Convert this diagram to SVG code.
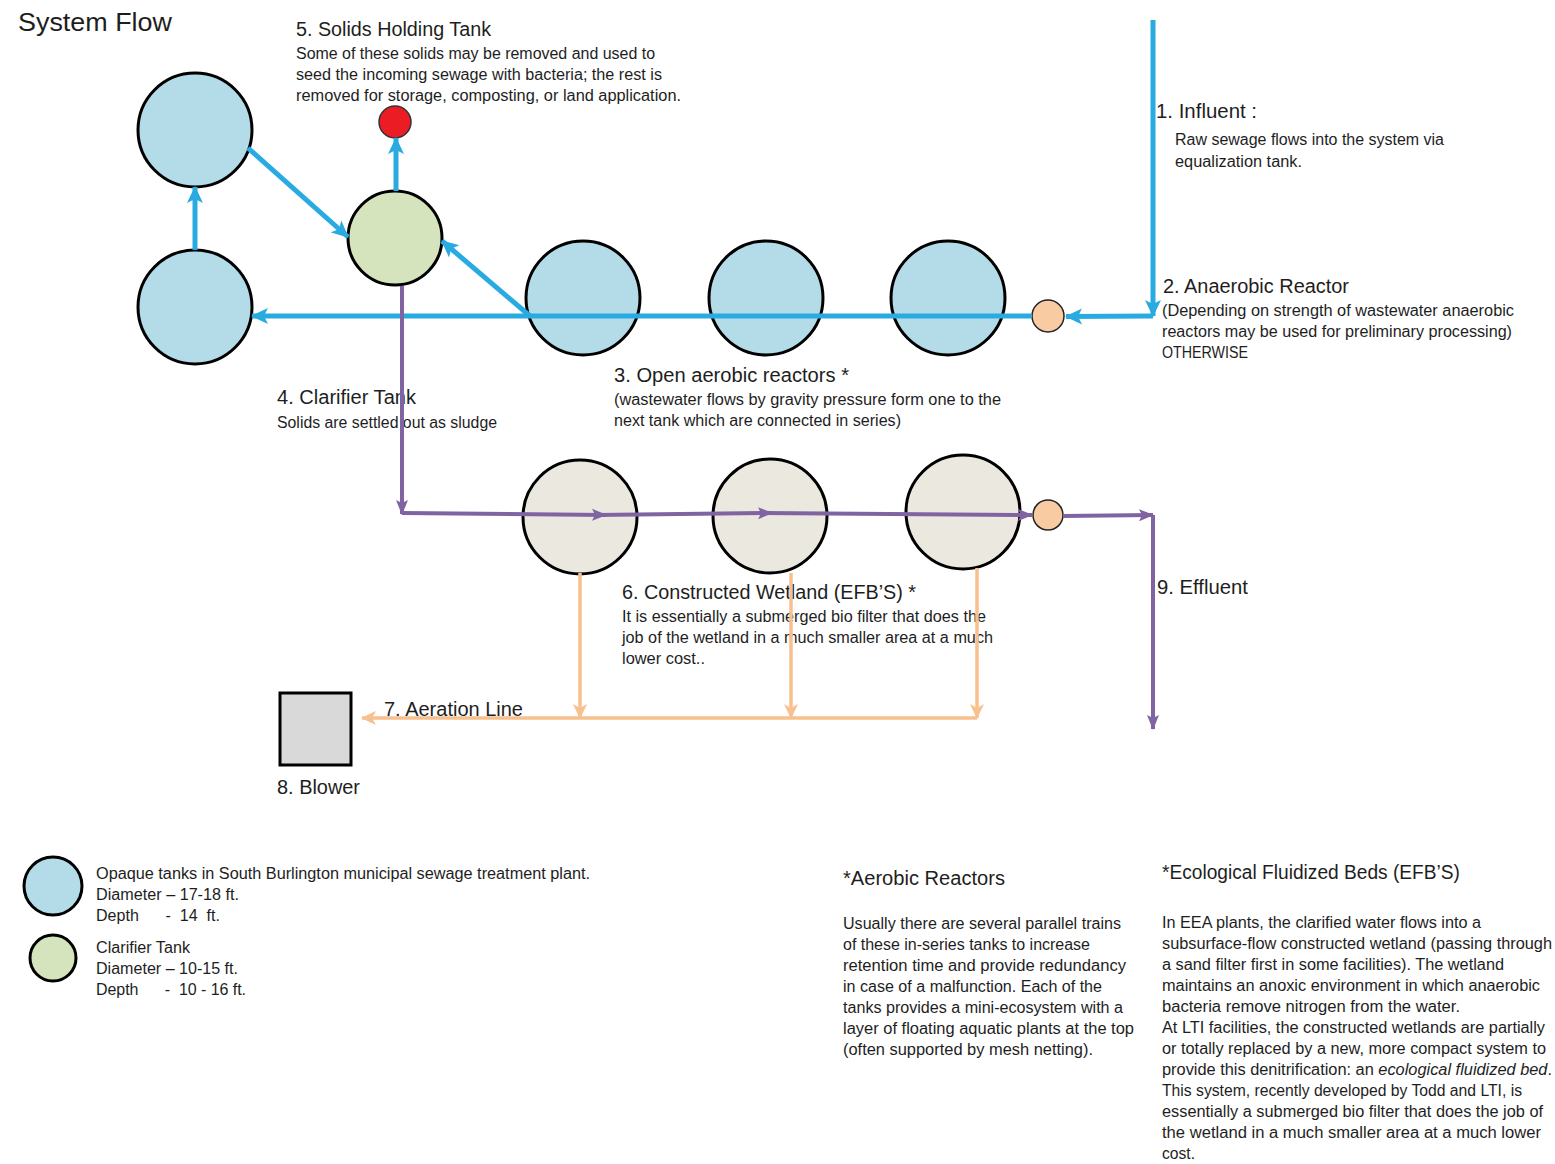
<svg xmlns="http://www.w3.org/2000/svg" width="1555" height="1164" viewBox="0 0 1555 1164">
<style>
text{font-family:"Liberation Sans",Arial,sans-serif;fill:#1e1e1e}
.t{font-size:19.5px}
.b{font-size:16px}
.h{font-size:20px}
.blue{fill:#b4dbe8;stroke:#000;stroke-width:3}
.green{fill:#d6e4bd;stroke:#000;stroke-width:3}
.cream{fill:#ebe9df;stroke:#000;stroke-width:3}
.peach{fill:#f9cba3;stroke:#222;stroke-width:1.5}
.cb{fill:none;stroke:#29abe2;stroke-width:5}
.cp{fill:none;stroke:#8064a2;stroke-width:4}
.co{fill:none;stroke:#f9c08f;stroke-width:3.5}
</style>
<defs>
<marker id="ab" markerUnits="userSpaceOnUse" markerWidth="18" markerHeight="18" refX="16" refY="9" orient="auto"><path d="M0,1 L17,9 L0,17 L4,9 Z" fill="#29abe2"/></marker>
<marker id="ap" markerUnits="userSpaceOnUse" markerWidth="16" markerHeight="16" refX="14" refY="8" orient="auto"><path d="M0,2 L15,8 L0,14 L3,8 Z" fill="#8064a2"/></marker>
<marker id="ao" markerUnits="userSpaceOnUse" markerWidth="16" markerHeight="16" refX="14" refY="8" orient="auto"><path d="M0,1 L15,8 L0,15 L4,8 Z" fill="#f9c08f"/></marker>
</defs>
<rect width="1555" height="1164" fill="#fff"/>

<g id="labels">
<text x="18" y="31" style="font-size:25px" textLength="154" lengthAdjust="spacingAndGlyphs">System Flow</text>
<g id="label-5">
<text class="t" x="296" y="36" textLength="195" lengthAdjust="spacingAndGlyphs">5. Solids Holding Tank</text>
<text class="b" x="296" y="59" textLength="359" lengthAdjust="spacingAndGlyphs">Some of these solids may be removed and used to</text>
<text class="b" x="296" y="80" textLength="366" lengthAdjust="spacingAndGlyphs">seed the incoming sewage with bacteria; the rest is</text>
<text class="b" x="296" y="101" textLength="385" lengthAdjust="spacingAndGlyphs">removed for storage, composting, or land application.</text>
</g>
<g id="label-1">
<text class="t" x="1156" y="118" textLength="101" lengthAdjust="spacingAndGlyphs">1. Influent :</text>
<text class="b" x="1175" y="145" textLength="269" lengthAdjust="spacingAndGlyphs">Raw sewage flows into the system via</text>
<text class="b" x="1175" y="167" textLength="127" lengthAdjust="spacingAndGlyphs">equalization tank.</text>
</g>
<g id="label-2">
<text class="t" x="1163" y="293" textLength="186" lengthAdjust="spacingAndGlyphs">2. Anaerobic Reactor</text>
<text class="b" x="1162" y="316" textLength="352" lengthAdjust="spacingAndGlyphs">(Depending on strength of wastewater anaerobic</text>
<text class="b" x="1162" y="337" textLength="350" lengthAdjust="spacingAndGlyphs">reactors may be used for preliminary processing)</text>
<text class="b" x="1162" y="358" textLength="86" lengthAdjust="spacingAndGlyphs">OTHERWISE</text>
</g>
<g id="label-3">
<text class="t" x="614" y="382" textLength="235" lengthAdjust="spacingAndGlyphs">3. Open aerobic reactors *</text>
<text class="b" x="614" y="405" textLength="387" lengthAdjust="spacingAndGlyphs">(wastewater flows by gravity pressure form one to the</text>
<text class="b" x="614" y="426" textLength="287" lengthAdjust="spacingAndGlyphs">next tank which are connected in series)</text>
</g>
<g id="label-4">
<text class="t" x="277" y="404" textLength="139" lengthAdjust="spacingAndGlyphs">4. Clarifier Tank</text>
<text class="b" x="277" y="428" textLength="220" lengthAdjust="spacingAndGlyphs">Solids are settled out as sludge</text>
</g>
<g id="label-6">
<text class="t" x="622" y="599" textLength="294" lengthAdjust="spacingAndGlyphs">6. Constructed Wetland (EFB’S) *</text>
<text class="b" x="622" y="622" textLength="364" lengthAdjust="spacingAndGlyphs">It is essentially a submerged bio filter that does the</text>
<text class="b" x="622" y="643" textLength="371" lengthAdjust="spacingAndGlyphs">job of the wetland in a much smaller area at a much</text>
<text class="b" x="622" y="664" textLength="83" lengthAdjust="spacingAndGlyphs">lower cost..</text>
</g>
<text class="t" x="384" y="716" textLength="139" lengthAdjust="spacingAndGlyphs">7. Aeration Line</text>
<text class="t" x="277" y="794" textLength="83" lengthAdjust="spacingAndGlyphs">8. Blower</text>
<text class="t" x="1157" y="594" textLength="91" lengthAdjust="spacingAndGlyphs">9. Effluent</text>
</g>

<g id="legend">
<ellipse class="blue" cx="53" cy="886" rx="29" ry="29"/>
<ellipse class="green" cx="53" cy="958" rx="23" ry="23"/>
<text class="b" x="96" y="879" textLength="494" lengthAdjust="spacingAndGlyphs">Opaque tanks in South Burlington municipal sewage treatment plant.</text>
<text class="b" x="96" y="900" textLength="143" lengthAdjust="spacingAndGlyphs">Diameter – 17-18 ft.</text>
<text class="b" x="96" y="921" xml:space="preserve" textLength="124" lengthAdjust="spacing">Depth      -  14  ft.</text>
<text class="b" x="96" y="953" textLength="94" lengthAdjust="spacingAndGlyphs">Clarifier Tank</text>
<text class="b" x="96" y="974" textLength="142" lengthAdjust="spacingAndGlyphs">Diameter – 10-15 ft.</text>
<text class="b" x="96" y="995" xml:space="preserve" textLength="150" lengthAdjust="spacing">Depth      -  10 - 16 ft.</text>
</g>

<g id="note-aerobic">
<text class="h" x="843" y="885" textLength="162" lengthAdjust="spacingAndGlyphs">*Aerobic Reactors</text>
<text class="b" x="843" y="929" textLength="278" lengthAdjust="spacingAndGlyphs">Usually there are several parallel trains</text>
<text class="b" x="843" y="950" textLength="247" lengthAdjust="spacingAndGlyphs">of these in-series tanks to increase</text>
<text class="b" x="843" y="971" textLength="283" lengthAdjust="spacingAndGlyphs">retention time and provide redundancy</text>
<text class="b" x="843" y="992" textLength="259" lengthAdjust="spacingAndGlyphs">in case of a malfunction. Each of the</text>
<text class="b" x="843" y="1013" textLength="280" lengthAdjust="spacingAndGlyphs">tanks provides a mini-ecosystem with a</text>
<text class="b" x="843" y="1034" textLength="291" lengthAdjust="spacingAndGlyphs">layer of floating aquatic plants at the top</text>
<text class="b" x="843" y="1055" textLength="250" lengthAdjust="spacingAndGlyphs">(often supported by mesh netting).</text>
</g>

<g id="note-efb">
<text class="h" x="1162" y="879" textLength="298" lengthAdjust="spacingAndGlyphs">*Ecological Fluidized Beds (EFB’S)</text>
<text class="b" x="1162" y="928" textLength="319" lengthAdjust="spacingAndGlyphs">In EEA plants, the clarified water flows into a</text>
<text class="b" x="1162" y="949" textLength="390" lengthAdjust="spacingAndGlyphs">subsurface-flow constructed wetland (passing through</text>
<text class="b" x="1162" y="970" textLength="342" lengthAdjust="spacingAndGlyphs">a sand filter first in some facilities). The wetland</text>
<text class="b" x="1162" y="991" textLength="378" lengthAdjust="spacingAndGlyphs">maintains an anoxic environment in which anaerobic</text>
<text class="b" x="1162" y="1012" textLength="298" lengthAdjust="spacingAndGlyphs">bacteria remove nitrogen from the water.</text>
<text class="b" x="1162" y="1033" textLength="383" lengthAdjust="spacingAndGlyphs">At LTI facilities, the constructed wetlands are partially</text>
<text class="b" x="1162" y="1054" textLength="384" lengthAdjust="spacingAndGlyphs">or totally replaced by a new, more compact system to</text>
<text class="b" x="1162" y="1075" textLength="390" lengthAdjust="spacingAndGlyphs">provide this denitrification: an <tspan font-style="italic">ecological fluidized bed</tspan>.</text>
<text class="b" x="1162" y="1096" textLength="360" lengthAdjust="spacingAndGlyphs">This system, recently developed by Todd and LTI, is</text>
<text class="b" x="1162" y="1117" textLength="381" lengthAdjust="spacingAndGlyphs">essentially a submerged bio filter that does the job of</text>
<text class="b" x="1162" y="1138" textLength="379" lengthAdjust="spacingAndGlyphs">the wetland in a much smaller area at a much lower</text>
<text class="b" x="1162" y="1159" textLength="33" lengthAdjust="spacingAndGlyphs">cost.</text>
</g>

<g id="tank-top-left"><ellipse class="blue" cx="195" cy="130" rx="57" ry="57"/></g>
<g id="tank-bottom-left"><ellipse class="blue" cx="195" cy="307" rx="57" ry="57"/></g>
<g id="clarifier"><ellipse class="green" cx="395" cy="238" rx="47" ry="47"/></g>
<g id="solids-holding"><circle cx="395" cy="122" r="16" fill="#ec1c24" stroke="#333" stroke-width="1.5"/></g>
<g id="aerobic-1"><ellipse class="blue" cx="583" cy="298" rx="57" ry="57"/></g>
<g id="aerobic-2"><ellipse class="blue" cx="766" cy="298" rx="57" ry="57"/></g>
<g id="aerobic-3"><ellipse class="blue" cx="948" cy="298" rx="57" ry="57"/></g>
<g id="anaerobic"><circle class="peach" cx="1048" cy="316" r="16"/></g>
<g id="wetland-1"><ellipse class="cream" cx="580" cy="517" rx="57" ry="57"/></g>
<g id="wetland-2"><ellipse class="cream" cx="770" cy="516" rx="57" ry="57"/></g>
<g id="wetland-3"><ellipse class="cream" cx="963" cy="512" rx="57" ry="57"/></g>
<g id="effluent-node"><circle class="peach" cx="1048" cy="515" r="15"/></g>
<g id="blower"><rect x="280" y="693" width="71" height="72" fill="#d9d9d9" stroke="#000" stroke-width="3"/></g>

<g id="connectors">
<path class="cb" d="M1153,20 V316" marker-end="url(#ab)"/>
<path class="cb" d="M1153,316 L1066,316.5" marker-end="url(#ab)"/>
<path class="cb" d="M1032,316 H252" marker-end="url(#ab)"/>
<path class="cb" d="M530,316 L442,241" marker-end="url(#ab)"/>
<path class="cb" d="M195,250 V187" marker-end="url(#ab)"/>
<path class="cb" d="M248,148 L348,237" marker-end="url(#ab)"/>
<path class="cb" d="M396,191 V138" marker-end="url(#ab)"/>
<path class="cp" d="M402,286 V514" marker-end="url(#ap)"/>
<path class="cp" d="M402,513 L606,515" marker-end="url(#ap)"/>
<path class="cp" d="M596,515 L772,513" marker-end="url(#ap)"/>
<path class="cp" d="M762,513 L1032,515" marker-end="url(#ap)"/>
<path class="cp" d="M1063,516 L1153,515" marker-end="url(#ap)"/>
<path class="cp" d="M1153,515 V729" marker-end="url(#ap)"/>
<path class="co" d="M580,573 V718" marker-end="url(#ao)"/>
<path class="co" d="M791,573 V718" marker-end="url(#ao)"/>
<path class="co" d="M977,568 V718" marker-end="url(#ao)"/>
<path class="co" d="M977,718 H362" marker-end="url(#ao)"/>
</g>
</svg>
